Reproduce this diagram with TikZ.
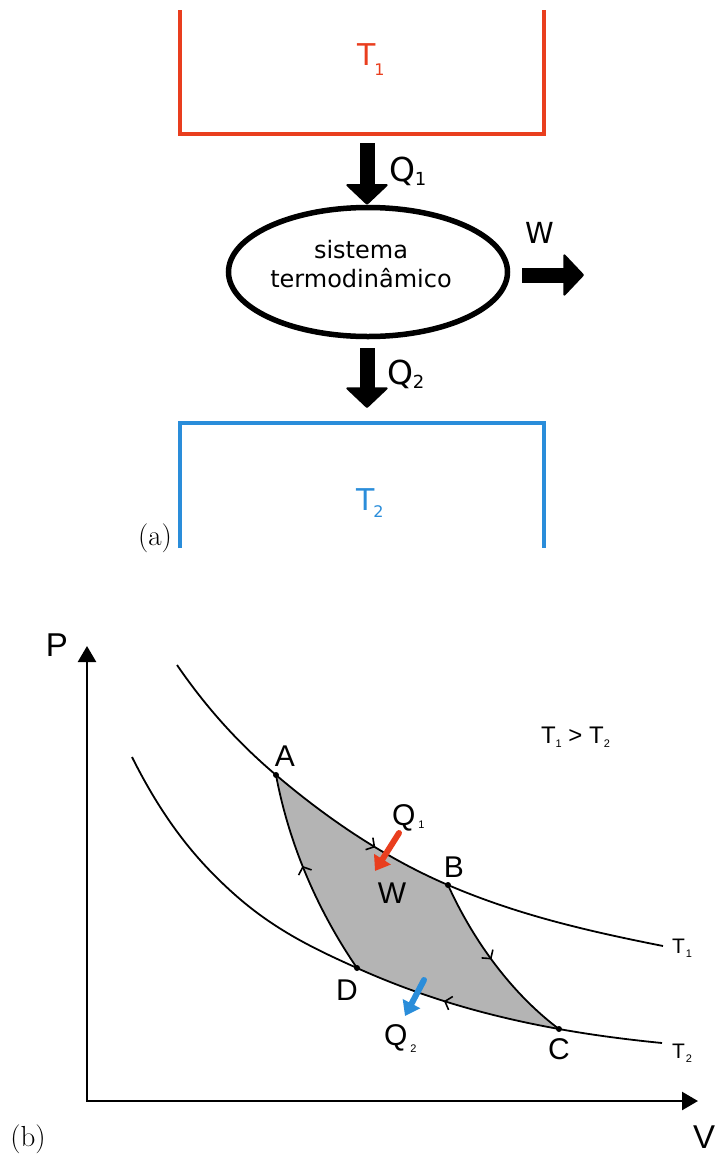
\documentclass[tikz,border=0pt]{standalone}
\usepackage{fontspec}
\newfontfamily\dvfont{DejaVu Sans}
\newfontfamily\arfont{Liberation Sans}
\usetikzlibrary{arrows.meta,decorations.markings,shapes.geometric}
\newcommand\setfs[1]{\fontsize{#1}{#1}\selectfont}
\definecolor{hotred}{RGB}{233,62,30}
\definecolor{coldblue}{RGB}{42,141,218}
\definecolor{cyclegray}{RGB}{180,180,180}
\tikzset{
  lbl/.style={inner sep=0pt, outer sep=0pt},
  bracket/.style={line width=4.5pt, line join=miter},
  bigarrow/.style={line width=15pt, -{Triangle[width=44pt,length=21pt,line width=2pt,round]}},
  isotherm/.style={line width=1.8pt},
  axis/.style={line width=2.5pt, line join=miter},
  cyctick/.style={postaction={decorate,decoration={markings,
     mark=at position #1 with {\arrow{Straight Barb[length=6pt,width=14pt,line width=1.6pt]}}}}},
  heatarrow/.style={line width=6pt, line cap=round, -{Triangle[width=19pt,length=14pt]}},
  pt/.style={fill=black}
}
\begin{document}
\begin{tikzpicture}[x=1pt,y=-1pt]
\useasboundingbox (0,0) rectangle (717,1157);

% ---------- (a) ----------
\draw[bracket, hotred] (180,10) -- (180,134) -- (544,134) -- (544,10);
\node[lbl, text=hotred, anchor=base west] (t1top) at (357,65)
  {\dvfont\setfs{30}T\kern-1pt\raisebox{-10pt}{\setfs{16}1}};

\node[draw, ellipse, line width=5.5pt, minimum width=279pt, minimum height=129pt] (sys) at (368,272) {};
\node[lbl, align=center, font=\dvfont\fontsize{24}{29}\selectfont] (systxt) at (361,264.4) {sistema\\termodinâmico};

\coordinate (q1s) at (367,143);
\draw[bigarrow] (q1s) -- (q1s |- sys.north);
\node[lbl, anchor=base west] (q1lbl) at (389,181) {\dvfont\setfs{33}Q\raisebox{-4pt}{\setfs{18}1}};

\coordinate (q2s) at (367,348);
\coordinate (q2e) at (367,408);
\draw[bigarrow] (q2s) -- (q2e);
\node[lbl, anchor=base west] (q2lbl) at (387,384) {\dvfont\setfs{33}Q\raisebox{-4pt}{\setfs{18}2}};

\coordinate (ws) at (522,275);
\coordinate (we) at (584,275);
\draw[bigarrow] (ws) -- (we);
\node[lbl, font=\dvfont\setfs{29}] (wtop) at (540,233) {W};

\draw[bracket, coldblue] (180,548) -- (180,423) -- (544,423) -- (544,548);
\node[lbl, text=coldblue, anchor=base west] (t2top) at (356,510)
  {\dvfont\setfs{30}T\kern-1pt\raisebox{-7pt}{\setfs{16}2}};

\node[lbl, font=\setfs{29}] (alabel) at (155,538) {(a)};

% ---------- (b) ----------
\coordinate (O) at (87,1101);
\coordinate (Ptop) at (87,646);
\coordinate (Vend) at (698,1101);
\draw[axis, {Triangle[width=18pt,length=16pt]}-{Triangle[width=18pt,length=16pt]}] (Ptop) -- (O) -- (Vend);
\node[lbl, font=\arfont\setfs{33}] (Plbl) at (57,645) {P};
\node[lbl, font=\arfont\setfs{33}] (Vlbl) at (704,1137) {V};
\node[lbl, font=\setfs{29}] (blabel) at (28,1139) {(b)};

\coordinate (A) at (276,775);
\coordinate (B) at (448,885);
\coordinate (C) at (559,1029);
\coordinate (D) at (357,968);

% cycle area
\fill[cyclegray] (A) .. controls (333.3,823.7) and (390.7,860.4) .. (B)
  .. controls (472.8,939.7) and (511,993) .. (C)
  .. controls (491.7,1016.9) and (424.3,998.3) .. (D)
  .. controls (317.4,910.2) and (288.9,843.9) .. (A) -- cycle;

% isotherm T1
\draw[isotherm] (177,665) .. controls (210,713) and (243,747) .. (A);
\draw[isotherm, cyctick=0.6] (A) .. controls (333.3,823.7) and (390.7,860.4) .. (B);
\draw[isotherm] (B) .. controls (519.7,915.8) and (591.3,931.7) .. (663,946);
% isotherm T2
\draw[isotherm] (132,757) .. controls (165.7,824.4) and (199.3,862.7) .. (233,893)
  .. controls (274.3,930.2) and (315.7,949.4) .. (D);
\draw[isotherm, cyctick=0.56] (C) .. controls (491.7,1016.9) and (424.3,998.3) .. (D);
\draw[isotherm] (C) .. controls (593.3,1035.2) and (627.7,1039.6) .. (662,1043);
% adiabats
\draw[isotherm, cyctick=0.47] (B) .. controls (472.8,939.7) and (511,993) .. (C);
\draw[isotherm, cyctick=0.55] (D) .. controls (317.4,910.2) and (288.9,843.9) .. (A);

\foreach \p in {A,B,C,D} \fill[pt] (\p) circle (3pt);

\node[lbl, font=\arfont\setfs{30}] (Albl) at (285,756) {A};
\node[lbl, font=\arfont\setfs{30}] (Blbl) at (454,867) {B};
\node[lbl, font=\arfont\setfs{30}] (Clbl) at (559,1049) {C};
\node[lbl, font=\arfont\setfs{30}] (Dlbl) at (347,990) {D};
\node[lbl, font=\arfont\setfs{30}] (Wlbl) at (392,893) {W};

\coordinate (r1) at (399,833);
\coordinate (r2) at (375,871);
\draw[heatarrow, hotred] (r1) -- (r2);
\node[lbl, anchor=base west] (q1b) at (392,825) {\arfont\setfs{30}Q\kern3pt\raisebox{-3pt}{\setfs{11}1}};

\coordinate (b1) at (424,980);
\coordinate (b2) at (405,1016);
\draw[heatarrow, coldblue] (b1) -- (b2);
\node[lbl, anchor=base west] (q2b) at (384,1045) {\arfont\setfs{30}Q\kern3pt\raisebox{-7pt}{\setfs{11}2}};

\node[lbl, anchor=base west] (rel) at (541,743)
  {\arfont\setfs{24}T\raisebox{-4pt}{\setfs{11}1} > T\raisebox{-4pt}{\setfs{11}2}};
\node[lbl, anchor=base west] (t1r) at (672,953) {\arfont\setfs{21}T\kern1pt\raisebox{-4pt}{\setfs{11}1}};
\node[lbl, anchor=base west] (t2r) at (672,1058) {\arfont\setfs{21}T\kern1pt\raisebox{-4pt}{\setfs{11}2}};
\end{tikzpicture}
\end{document}
